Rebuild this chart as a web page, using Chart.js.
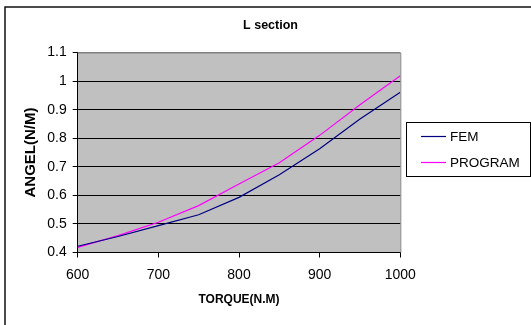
<!DOCTYPE html>
<html>
<head>
<meta charset="utf-8">
<script src="https://cdn.jsdelivr.net/npm/chart.js@4.4.1/dist/chart.umd.min.js"></script>
<style>
html,body{margin:0;padding:0;background:#fff;}
canvas{display:block;}
</style>
</head>
<body>
<canvas id="c" width="531" height="325"></canvas>
<script>
const chartTitle = 'L section';
const xTitle = 'TORQUE(N.M)';
const yTitle = 'ANGEL(N/M)';
const torque = [600, 650, 700, 750, 800, 850, 900, 950, 1000];
const femValues = [0.422, 0.456, 0.494, 0.532, 0.593, 0.672, 0.763, 0.867, 0.961];
const programValues = [0.418, 0.459, 0.506, 0.564, 0.640, 0.714, 0.810, 0.917, 1.019];
const seriesNames = ['FEM', 'PROGRAM'];
const seriesColors = ['#000080', '#FF00FF'];
const xTicks = [600, 700, 800, 900, 1000];
const yTicks = [0.4, 0.5, 0.6, 0.7, 0.8, 0.9, 1, 1.1];

const FONT = "'Liberation Sans', Arial, sans-serif";

const decor = {
  id: 'decor',
  beforeDraw(chart) {
    const {ctx, chartArea: a} = chart;
    ctx.save();
    ctx.fillStyle = '#fff';
    ctx.fillRect(0, 0, chart.width, chart.height);
    ctx.fillStyle = '#C0C0C0';
    ctx.fillRect(a.left, a.top, a.right - a.left, a.bottom - a.top);
    ctx.restore();
  },
  afterDraw(chart) {
    const {ctx, chartArea: a} = chart;
    ctx.save();
    // plot border top/right
    ctx.strokeStyle = '#808080';
    ctx.lineWidth = 1;
    ctx.beginPath();
    ctx.moveTo(a.left, a.top + 0.5);
    ctx.lineTo(a.right + 0.5, a.top + 0.5);
    ctx.lineTo(a.right + 0.5, a.bottom);
    ctx.stroke();
    // outer frame
    ctx.strokeStyle = '#111';
    ctx.lineWidth = 1.5;
    ctx.strokeRect(5, 7, 700, 500);
    // title
    ctx.fillStyle = '#000';
    ctx.font = 'bold 12.5px ' + FONT;
    ctx.textAlign = 'center';
    ctx.textBaseline = 'middle';
    ctx.fillText(chartTitle, 270.5, 26);
    // legend
    ctx.strokeStyle = '#000';
    ctx.lineWidth = 1;
    ctx.strokeRect(406.5, 122.5, 124, 54);
    ctx.font = '13.5px ' + FONT;
    ctx.textAlign = 'left';
    chart.data.datasets.forEach((ds, i) => {
      const y = 136 + i * 26;
      ctx.strokeStyle = ds.borderColor;
      ctx.lineWidth = 1.2;
      ctx.beginPath();
      ctx.moveTo(421, y + 0.5);
      ctx.lineTo(446, y + 0.5);
      ctx.stroke();
      ctx.fillStyle = '#000';
      ctx.fillText(ds.label, 450, y + 1);
    });
    ctx.restore();
  }
};

new Chart(document.getElementById('c'), {
  type: 'line',
  data: {
    datasets: [
      {
        label: seriesNames[0],
        data: torque.map((t, i) => ({x: t, y: femValues[i]})),
        borderColor: seriesColors[0],
        borderWidth: 1.2,
        pointRadius: 0,
        tension: 0,
        fill: false
      },
      {
        label: seriesNames[1],
        data: torque.map((t, i) => ({x: t, y: programValues[i]})),
        borderColor: seriesColors[1],
        borderWidth: 1.2,
        pointRadius: 0,
        tension: 0,
        fill: false
      }
    ]
  },
  options: {
    responsive: false,
    animation: false,
    devicePixelRatio: 1,
    layout: { padding: { left: 0, top: 52.5, right: 130.7, bottom: 0 } },
    plugins: {
      legend: { display: false },
      title: { display: false },
      tooltip: { enabled: false }
    },
    scales: {
      x: {
        type: 'linear',
        min: 600,
        max: 1000,
        afterBuildTicks(scale) { scale.ticks = xTicks.map(v => ({value: v})); },
        afterFit(scale) { scale.height = 72.5; },
        grid: { drawOnChartArea: false, drawTicks: true, tickLength: 5, color: '#000', lineWidth: 1 },
        border: { display: true, color: '#000', width: 1 },
        ticks: { color: '#000', padding: 9, font: { family: FONT, size: 14 }, maxRotation: 0, callback: v => String(v) },
        title: { display: true, text: xTitle, color: '#000', font: { family: FONT, size: 12, weight: 'bold' }, padding: { top: 0, bottom: 17.8 } }
      },
      y: {
        type: 'linear',
        min: 0.4,
        max: 1.1,
        afterBuildTicks(scale) { scale.ticks = yTicks.map(v => ({value: v})); },
        afterFit(scale) { scale.width = 77.7; },
        grid: {
          drawTicks: true,
          tickLength: 5,
          color: ctx => (ctx.tick && ctx.tick.value === 1.1) ? '#808080' : '#000',
          tickColor: '#000',
          lineWidth: 1
        },
        border: { display: true, color: '#000', width: 1 },
        ticks: {
          color: '#000',
          padding: 6,
          font: { family: FONT, size: 14 },
          callback: v => String(v)
        },
        title: { display: true, text: yTitle, color: '#000', font: { family: FONT, size: 15, weight: 'bold' }, padding: { top: 22.2, bottom: 0 } }
      }
    }
  },
  plugins: [decor]
});
</script>
</body>
</html>
